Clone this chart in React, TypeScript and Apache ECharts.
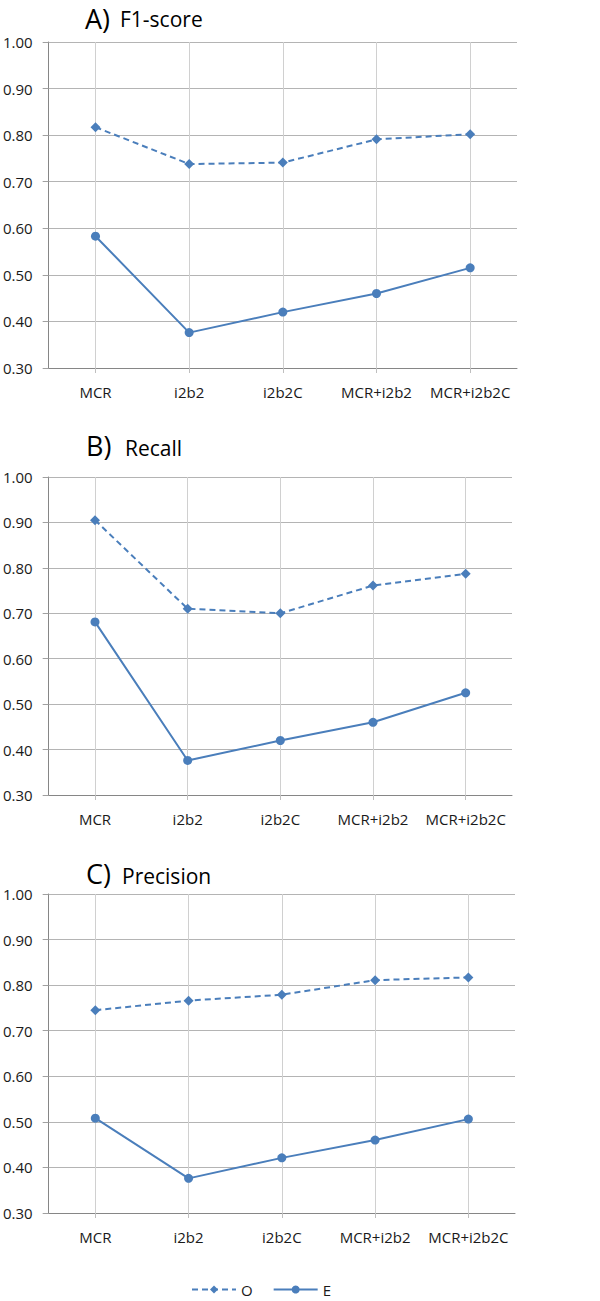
import React, { useEffect, useRef } from "react";
import * as echarts from "echarts";

const categories = ["MCR", "i2b2", "i2b2C", "MCR+i2b2", "MCR+i2b2C"];
const yTicks = [0.3, 0.4, 0.5, 0.6, 0.7, 0.8, 0.9, 1.0];

const f1O = [0.817, 0.738, 0.741, 0.791, 0.802];
const f1E = [0.583, 0.376, 0.42, 0.46, 0.515];
const recallO = [0.905, 0.71, 0.7, 0.761, 0.787];
const recallE = [0.681, 0.376, 0.42, 0.46, 0.525];
const precisionO = [0.745, 0.766, 0.779, 0.811, 0.817];
const precisionE = [0.508, 0.376, 0.421, 0.46, 0.506];

const panelLetters = ["A)", "B)", "C)"];
const panelNames = ["F1-score", "Recall", "Precision"];

const BLUE = "#4a7ebb";
const FONT = "'Open Sans', 'Noto Sans', sans-serif";

export default function App() {
  const ref = useRef<HTMLDivElement>(null);
  useEffect(() => {
    if (!ref.current) return;
    const chart = echarts.init(ref.current, undefined, { renderer: "svg" });

    const grids = [
      { left: 47, top: 42, width: 470, height: 326 },
      { left: 47, top: 477, width: 465, height: 318 },
      { left: 48, top: 894, width: 467, height: 319 },
    ];
    const titlePos = [
      { lx: 85, ly: 18, nx: 120, ny: 19 },
      { lx: 86, ly: 445, nx: 125, ny: 448 },
      { lx: 86, ly: 873, nx: 122, ny: 876 },
    ];
    const dataO = [f1O, recallO, precisionO];
    const dataE = [f1E, recallE, precisionE];

    const xAxis = grids.map((_, i) => ({
      type: "category",
      gridIndex: i,
      data: categories,
      boundaryGap: true,
      axisLine: { show: true, lineStyle: { color: "#868686", width: 1 } },
      axisTick: { show: true, alignWithLabel: true, length: 5, lineStyle: { color: "#bfbfbf" } },
      splitLine: { show: true, alignWithLabel: true, lineStyle: { color: "#d0d0d0", width: 1 } },
      axisLabel: { color: "#1a1a1a", fontSize: 15, fontFamily: FONT, margin: 16, interval: 0 },
    }));
    const yAxis = grids.map((_, i) => ({
      type: "value",
      gridIndex: i,
      min: yTicks[0],
      max: yTicks[yTicks.length - 1],
      interval: 0.1,
      axisLine: { show: true, lineStyle: { color: "#868686", width: 1 } },
      axisTick: { show: true, length: 6, lineStyle: { color: "#a0a0a0" } },
      splitLine: { show: true, lineStyle: { color: "#b4b4b4", width: 1 } },
      axisLabel: {
        color: "#1a1a1a",
        fontSize: 15,
        fontFamily: FONT,
        margin: 16,
        formatter: (v: number) => v.toFixed(2),
      },
    }));

    const series: any[] = [];
    grids.forEach((_, i) => {
      series.push({
        name: "O",
        type: "line",
        xAxisIndex: i,
        yAxisIndex: i,
        data: dataO[i],
        symbol: "diamond",
        symbolSize: 10,
        lineStyle: { color: BLUE, width: 2, type: [6, 4] },
        itemStyle: { color: BLUE },
      });
      series.push({
        name: "E",
        type: "line",
        xAxisIndex: i,
        yAxisIndex: i,
        data: dataE[i],
        symbol: "circle",
        symbolSize: 9,
        lineStyle: { color: BLUE, width: 2, type: "solid" },
        itemStyle: { color: BLUE },
      });
    });

    const graphic: any[] = [];
    titlePos.forEach((p, i) => {
      graphic.push({
        type: "text",
        x: p.lx,
        y: p.ly,
        style: {
          text: panelLetters[i],
          fontSize: 27,
          fontFamily: FONT,
          fill: "#000",
          verticalAlign: "middle",
        },
      });
      graphic.push({
        type: "text",
        x: p.nx,
        y: p.ny,
        style: {
          text: panelNames[i],
          fontSize: 21,
          fontFamily: FONT,
          fill: "#000",
          verticalAlign: "middle",
        },
      });
    });

    chart.setOption({
      animation: false,
      backgroundColor: "#fff",
      grid: grids,
      xAxis,
      yAxis,
      series,
      graphic,
      legend: {
        data: ["O", "E"],
        left: 191,
        top: 1282,
        padding: 0,
        itemWidth: 44,
        itemHeight: 10,
        itemGap: 20,
        textStyle: { color: "#1a1a1a", fontSize: 15, fontFamily: FONT },
      },
    });
    return () => chart.dispose();
  }, []);
  return (
    <div
      ref={ref}
      style={{ position: "absolute", left: 0, top: 0, width: 600, height: 1301 }}
    />
  );
}
